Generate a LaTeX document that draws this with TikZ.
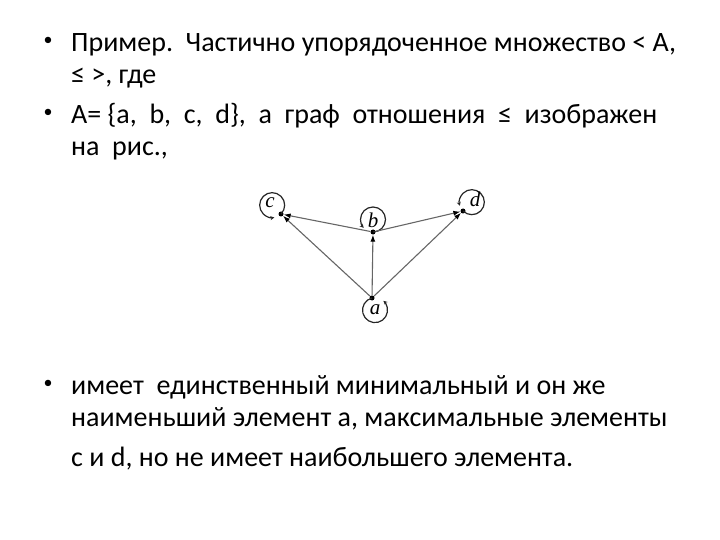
\documentclass[tikz,border=0pt]{standalone}
\usepackage{fontspec}
\usetikzlibrary{arrows.meta}
\setmainfont{Carlito}
\newfontfamily\lblfont{Liberation Serif}

\begin{document}
\begin{tikzpicture}[x=1pt, y=-1pt,
		txt/.style={anchor=base west, inner sep=0pt, font=\fontsize{28}{32}\selectfont},
		bul/.style={anchor=base, inner sep=0pt, font=\fontsize{18}{18}\selectfont},
		vtx/.style={circle, fill=black, inner sep=0pt, minimum size=5pt},
		lbl/.style={inner sep=0pt, font=\lblfont\itshape\fontsize{21}{21}\selectfont},
		edg/.style={draw=black!60, line width=1.1pt, -{Latex[length=7pt,width=5pt,black]}},
		lp/.style={draw=black!85, line width=1.2pt, -{Stealth[length=4pt,width=4pt]}}]
		\useasboundingbox (0,0) rectangle (720,540);
		% text above the picture
		\node[bul] (b1) at (48,46) {•};
		\node[txt] (t1) at (71,52) {Пример.\ \ Частично упорядоченное множество < A,};
		\node[txt] (t2) at (71,84) {≤ >, где};
		\node[bul] (b2) at (48,118) {•};
		\node[txt] (t3) at (71,124) {A= \{a,\ \ b,\ \ c,\ \ d\},\ \ а\ \ граф\ \ отношения\ \ ≤\ \ изображен};
		\node[txt] (t4) at (71,156) {на\ \ рис.,};
		% the graph
		\node[vtx] (c) at (281,214) {};
		\node[vtx] (b) at (373,232) {};
		\node[vtx] (d) at (463,211) {};
		\node[vtx] (a) at (372,298) {};
		\foreach \v/\s/\e in {c/45/-280, b/90/-222, d/135/-197, a/256/-48} {
			\draw[lp] (\v.center) arc[start angle=\s, end angle=\e, radius=12.5];
		};
		\node[lbl] (lc) at (270,203) {c};
		\node[lbl] (lb) at (373,220) {b};
		\node[lbl] (ld) at (475,199) {d};
		\node[lbl] (la) at (375,310) {a};
		\foreach \s/\t in {a/b, a/c, a/d, b/c, b/d} {
			\draw[edg] (\s) -- (\t);
		};
		% text below the picture
		\node[bul] (b3) at (48,388) {•};
		\node[txt] (t5) at (71,394) {имеет\ \ единственный минимальный и он же};
		\node[txt] (t6) at (71,426) {наименьший элемент a, максимальные элементы};
		\node[txt] (t7) at (71,466) {c и d, но не имеет наибольшего элемента.};
	\end{tikzpicture}
\end{document}
